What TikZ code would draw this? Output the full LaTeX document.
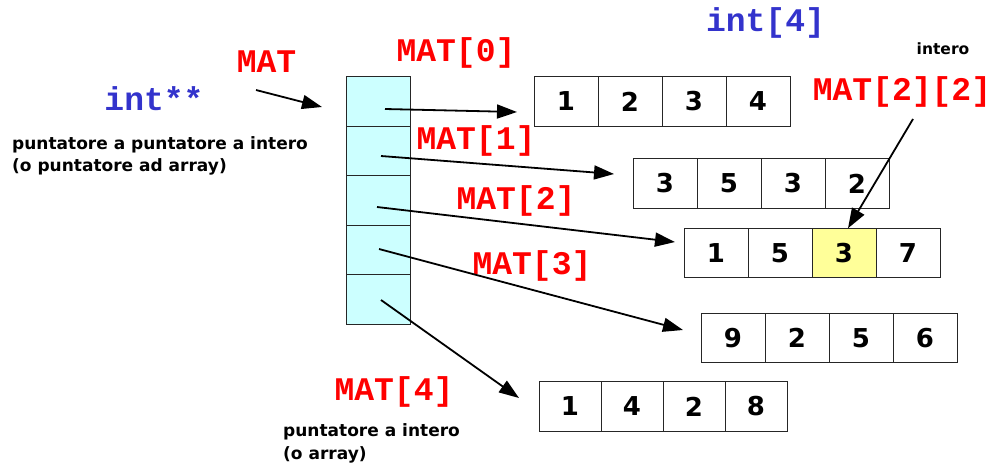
\documentclass[tikz,border=0pt]{standalone}
\usepackage{fontspec}
\usetikzlibrary{arrows.meta,calc}
\newfontfamily\codefont{Liberation Mono}
\newfontfamily\notefont{DejaVu Sans}
\definecolor{ptrcyan}{HTML}{CCFFFF}
\definecolor{hilite}{HTML}{FFFF99}
\definecolor{codered}{HTML}{FF0000}
\definecolor{codeblue}{HTML}{3333CC}
\tikzset{
  ptrcell/.style={draw=black!85, line width=1pt, fill=ptrcyan,
    minimum width=63.5pt, minimum height=49.5pt, inner sep=0pt, outer sep=0pt},
  intcell/.style={draw=black!85, line width=1pt,
    minimum height=49.5pt, inner sep=0pt, outer sep=0pt,
    font=\notefont\bfseries\fontsize{26}{28}\selectfont},
  redlabel/.style={text=codered, inner sep=0pt,
    font=\codefont\bfseries\fontsize{33}{36}\selectfont},
  bluelabel/.style={text=codeblue, inner sep=0pt,
    font=\codefont\bfseries\fontsize{33}{36}\selectfont},
  note/.style={inner sep=0pt, align=left,
    font=\notefont\bfseries\fontsize{17}{22.5}\selectfont},
  ptrarrow/.style={line width=1.8pt, -{Triangle[length=20pt,width=14pt]}},
}
\begin{document}
\begin{tikzpicture}[x=1pt,y=-1pt]
\useasboundingbox (0,0) rectangle (993,467);

% column of pointers MAT[0..4]
\foreach \i in {0,...,4}
  \node[ptrcell] (p\i) at (378.5,{101.5+49.5*\i}) {};

% the five rows int[4]
\foreach \v [count=\i] in {1,2,3,4}
  \node[intcell, minimum width=64pt, fill=white] (a0c\i) at ({534+64*(\i-0.5)},101.5) {\v};
\foreach \v [count=\i] in {3,5,3,2}
  \node[intcell, minimum width=64pt, fill=white] (a1c\i) at ({633+64*(\i-0.5)},183.5) {\v};
\foreach \v/\f [count=\i] in {1/white,5/white,3/hilite,7/white}
  \node[intcell, minimum width=64pt, fill=\f] (a2c\i) at ({684+64*(\i-0.5)},253) {\v};
\foreach \v [count=\i] in {9,2,5,6}
  \node[intcell, minimum width=64pt, fill=white] (a3c\i) at ({701+64*(\i-0.5)},338) {\v};
\foreach \v [count=\i] in {1,4,2,8}
  \node[intcell, minimum width=62pt, fill=white] (a4c\i) at ({539+62*(\i-0.5)},406.5) {\v};

% labels (the base anchor of a two-line note sits on its last line)
\node[redlabel] (mat) at (266.5,62) {MAT};
\node[bluelabel] (tpp) at (154,98.5) {int**};
\node[note, anchor=base west] (ppnote) at (12,171.5)
  {puntatore a puntatore a intero\\(o puntatore ad array)};
\node[redlabel] (m0) at (456,53) {MAT[0]};
\node[redlabel] (m1) at (476,141) {MAT[1]};
\node[redlabel] (m2) at (516,201) {MAT[2]};
\node[redlabel] (m3) at (532,266) {MAT[3]};
\node[redlabel] (m4) at (394,392) {MAT[4]};
\node[bluelabel] (tarr) at (765.5,23) {int[4]};
\node[note, font=\notefont\bfseries\fontsize{15.5}{18}\selectfont] (intnote) at (943,48.5) {intero};
\node[redlabel] (m22) at (902,92) {MAT[2][2]};
\node[note, anchor=base west] (pnote) at (283,459)
  {puntatore a intero\\(o array)};

% arrow ends
\coordinate (sm) at (256,90);   \coordinate (tm) at (322,107);
\coordinate (s0) at (385,109);  \coordinate (t0) at (517,112);
\coordinate (s1) at (381,156);  \coordinate (t1) at (614,174);
\coordinate (s2) at (377,207);  \coordinate (t2) at (675,242);
\coordinate (s3) at (379,249);  \coordinate (t3) at (683,330);
\coordinate (s4) at (381,300);  \coordinate (t4) at (519,398);
\coordinate (s22) at (913,119);

% pointers
\draw[ptrarrow] (sm) -- (tm);
\draw[ptrarrow] (s0) -- (t0);
\draw[ptrarrow] (s1) -- (t1);
\draw[ptrarrow] (s2) -- (t2);
\draw[ptrarrow] (s3) -- (t3);
\draw[ptrarrow] (s4) -- (t4);
\draw[ptrarrow] (s22) -- ([xshift=4pt]a2c3.north);
\end{tikzpicture}
\end{document}
